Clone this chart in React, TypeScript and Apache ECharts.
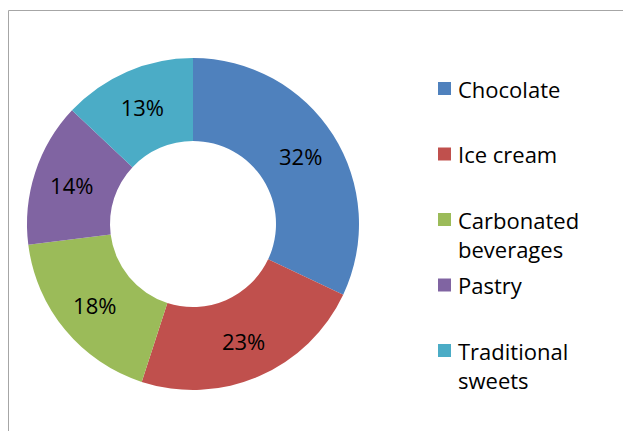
import React, { useEffect, useRef } from "react";
import * as echarts from "echarts";

const categories = ["Chocolate", "Ice cream", "Carbonated beverages", "Pastry", "Traditional sweets"];
const legendLabels = ["Chocolate", "Ice cream", "Carbonated\nbeverages", "Pastry", "Traditional\nsweets"];
const shares = [32, 23, 18, 14, 13];
const colors = ["#4F81BD", "#C0504D", "#9BBB59", "#8064A2", "#4BACC6"];

const FONT = "'Open Sans', 'DejaVu Sans', sans-serif";

export default function App() {
  const ref = useRef<HTMLDivElement>(null);
  useEffect(() => {
    if (!ref.current) return;
    const chart = echarts.init(ref.current, undefined, { renderer: "svg" });

    const legendGraphics: any[] = [];
    const firstCenter = 88.5;
    const rowStep = 65.5;
    const lineH = 29;
    legendLabels.forEach((lab, i) => {
      const cy = firstCenter + i * rowStep;
      legendGraphics.push({
        type: "rect",
        shape: { x: 438, y: cy - 6.5, width: 13, height: 13 },
        style: { fill: colors[i] },
        silent: true,
      });
      lab.split("\n").forEach((line, j) => {
        legendGraphics.push({
          type: "text",
          x: 458,
          y: cy + j * lineH,
          style: {
            text: line,
            fill: "#000",
            font: `22px ${FONT}`,
            verticalAlign: "middle",
            align: "left",
          },
          silent: true,
        });
      });
    });

    chart.setOption({
      animation: false,
      backgroundColor: "#ffffff",
      graphic: [
        {
          type: "rect",
          shape: { x: 8.5, y: 10.5, width: 1000, height: 1000 },
          style: { fill: "none", stroke: "#a6a6a6", lineWidth: 1 },
          silent: true,
          z: 0,
        },
        ...legendGraphics,
      ],
      series: [
        {
          type: "pie",
          center: [193, 224],
          radius: [83, 166],
          startAngle: 90,
          clockwise: true,
          avoidLabelOverlap: false,
          emphasis: { disabled: true },
          itemStyle: { borderWidth: 0 },
          label: {
            show: true,
            position: "inside",
            formatter: "{c}%",
            color: "#000",
            fontFamily: FONT,
            fontSize: 22,
          },
          labelLine: { show: false },
          data: categories.map((name, i) => ({
            name,
            value: shares[i],
            itemStyle: { color: colors[i] },
          })),
        },
      ],
    });
    return () => chart.dispose();
  }, []);
  return (
    <div
      ref={ref}
      style={{ position: "fixed", left: 0, top: 0, width: 623, height: 431 }}
    />
  );
}
